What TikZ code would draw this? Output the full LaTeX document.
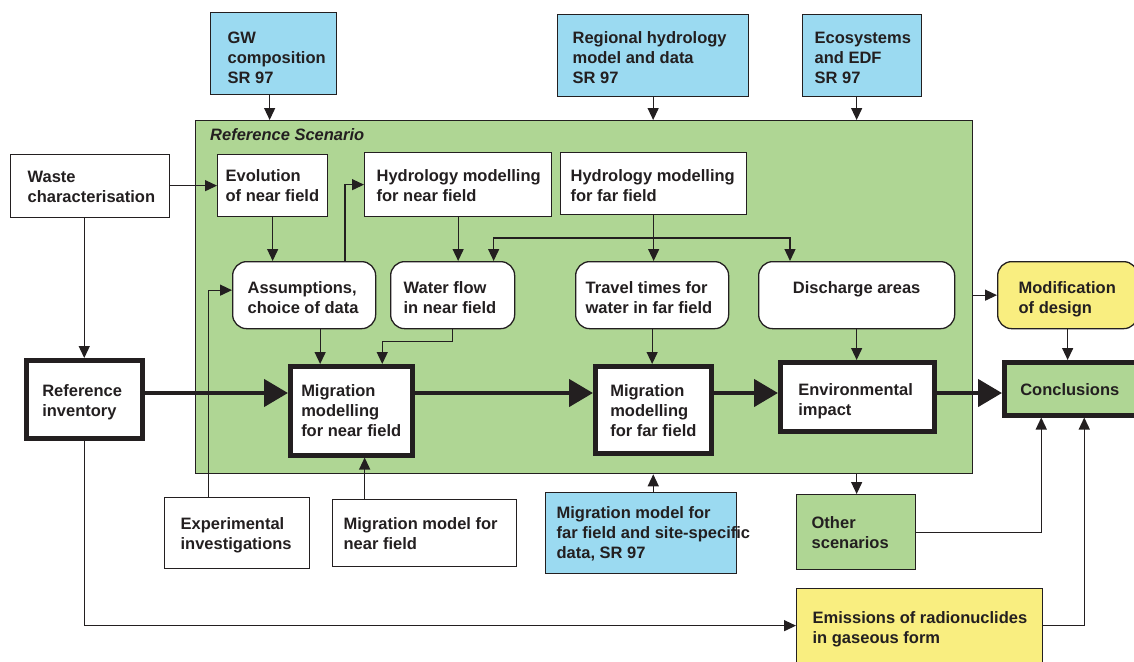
\documentclass[tikz,border=0pt]{standalone}
\usepackage{fontspec}
\setmainfont{Liberation Sans}
\usetikzlibrary{arrows.meta,calc}
\definecolor{lc}{HTML}{231F20}
\definecolor{cblue}{HTML}{9BDAF1}
\definecolor{cgreen}{HTML}{AFD694}
\definecolor{cyellow}{HTML}{F9EE80}
\tikzset{
  bx/.style={draw=lc, line width=1.3pt, anchor=north west, inner ysep=0pt,
    font=\bfseries\fontsize{16.5}{20}\selectfont, text=lc},
  rbx/.style={bx, rounded corners=14pt},
  tbx/.style={bx, line width=4.5pt},
  arr/.style={draw=lc, line width=1.3pt, -{Triangle[length=12pt,width=11pt]}},
  big/.style={draw=lc, line width=4.5pt, -{Triangle[length=24pt,width=27pt]}},
}
% #1 text width, #2 raise of first baseline above box centre, #3 lines
\newcommand\tl[3]{\makebox[#1pt][l]{\raisebox{#2pt}[0pt][0pt]{\begin{tabular}[t]{@{}l@{}}#3\end{tabular}}}}
\newcommand\tcn[3]{\makebox[#1pt][c]{\raisebox{#2pt}[0pt][0pt]{\begin{tabular}[t]{@{}c@{}}#3\end{tabular}}}}
% #1 options, #2 name, #3 x, #4 y, #5 w, #6 h, #7 text
\newcommand\bxn[7]{\node[#1,minimum width=#5pt,minimum height=#6pt] (#2) at (#3,#4) {#7};}
\begin{document}
\begin{tikzpicture}[x=1pt,y=-1pt]
\useasboundingbox (0,0) rectangle (1134,661);
\fill[white] (0,0) rectangle (1134,661);
\clip (0,0) rectangle (1134,661);
% reference scenario frame
\node[draw=lc, fill=cgreen, line width=1.3pt, minimum width=777pt, minimum height=353pt,
  anchor=north west, inner sep=0pt] (rs) at (195,120) {};
\node[anchor=base west, font=\bfseries\itshape\fontsize{16.5}{20}\selectfont, text=lc, inner sep=0pt]
  (rstitle) at (210,140) {Reference Scenario};
% top inputs
\bxn{bx,fill=cblue,inner xsep=17pt}{gw}{210}{12}{126}{82}{\tl{92}{10}{GW\\composition\\SR 97}}
\bxn{bx,fill=cblue,inner xsep=15pt}{rh}{557}{14}{191}{82}{\tl{161}{12}{Regional hydrology\\model and data\\SR 97}}
\bxn{bx,fill=cblue,inner xsep=12pt}{eco}{802}{14}{119}{82}{\tl{95}{12}{Ecosystems\\and EDF\\SR 97}}
% row 1
\bxn{bx,fill=white,inner xsep=17pt}{wc}{10}{154}{159}{63}{\tl{125}{3.5}{Waste\\characterisation}}
\bxn{bx,fill=white,inner xsep=8pt}{ev}{217}{154}{110}{62}{\tl{94}{4}{Evolution\\of near field}}
\bxn{bx,fill=white,inner xsep=12pt}{hn}{364}{152}{187}{64}{\tl{163}{3}{Hydrology modelling\\for near field}}
\bxn{bx,fill=white,inner xsep=10pt}{hf}{560}{152}{186}{62}{\tl{166}{2}{Hydrology modelling\\for far field}}
% row 2
\bxn{rbx,fill=white,inner xsep=15pt}{as}{232}{261}{143}{67}{\tl{113}{1.5}{Assumptions,\\choice of data}}
\bxn{rbx,fill=white,inner xsep=13pt}{wf}{390}{261}{124}{67}{\tl{98}{2}{Water flow\\in near field}}
\bxn{rbx,fill=white,inner xsep=10pt}{tt}{575}{261}{153}{67}{\tl{133}{2}{Travel times for\\water in far field}}
\bxn{rbx,fill=white,inner xsep=0pt}{ds}{758}{261}{196}{67}{\tcn{196}{2}{Discharge areas}}
\bxn{rbx,fill=cyellow,inner xsep=21pt}{mod}{997}{261}{140}{67}{\tl{98}{1.8}{Modification\\of design}}
% main row
\bxn{tbx,fill=white,inner xsep=16pt}{ri}{24}{358}{116}{78}{\tl{84}{2.7}{Reference\\inventory}}
\bxn{tbx,fill=white,inner xsep=11pt}{mn}{288}{364}{122}{89}{\tl{100}{14.2}{Migration\\modelling\\for near field}}
\bxn{tbx,fill=white,inner xsep=15pt}{mf}{593}{364}{116}{87}{\tl{86}{13.2}{Migration\\modelling\\for far field}}
\bxn{tbx,fill=white,inner xsep=18pt}{ei}{778}{360}{154}{69}{\tl{118}{1.2}{Environmental\\impact}}
\bxn{tbx,fill=cgreen,inner xsep=16pt}{co}{1002}{360}{140}{53}{\tl{108}{-7.2}{Conclusions}}
% bottom row
\bxn{bx,fill=white,inner xsep=16pt}{ex}{164}{497}{145}{71}{\tl{113}{3.5}{Experimental\\investigations}}
\bxn{bx,fill=white,inner xsep=11pt}{mmn}{332}{499}{184}{67}{\tl{162}{3.5}{Migration model for\\near field}}
\bxn{bx,fill=cblue,inner xsep=11pt}{mff}{545}{492}{191}{81}{\tl{169}{14.2}{Migration model for\\far field and site-specific\\data, SR 97}}
\bxn{bx,fill=cgreen,inner xsep=15pt}{os}{796}{494}{119}{75}{\tl{89}{3.2}{Other\\scenarios}}
\bxn{bx,fill=cyellow,inner xsep=16pt}{em}{796}{588}{246}{74}{\tl{214}{1.7}{Emissions of radionuclides\\in gaseous form}}
% helper coordinates
\coordinate (mainline) at (0,393);
\coordinate (br) at (0,238);
% top inputs into frame
\draw[arr] ([xshift=-4pt]gw.south) -- ([xshift=-4pt]gw.south |- rs.north);
\draw[arr] (rh.south) -- (rh.south |- rs.north);
\draw[arr] (ds.north |- eco.south) -- (ds.north |- rs.north);
% waste
\draw[arr] (wc.east |- ev.west) -- (ev.west);
\draw[arr] (ri.north |- wc.south) -- (ri.north);
% inside frame
\draw[arr] (ev.south) -- (ev.south |- as.north);
\draw[arr] ([xshift=-19pt]hn.west |- as.north) -- ([xshift=-19pt]hn.west) -- (hn.west);
\draw[arr] (hn.south) -- (hn.south |- wf.north);
\draw[arr] (hf.south) -- (hf.south |- tt.north);
\draw[arr] (hf.south |- br) -| ([xshift=41pt]wf.north);
\draw[arr] (hf.south |- br) -| ([xshift=32pt]ds.north west);
\draw[arr] ([xshift=-29pt]ex.north) |- ([yshift=5pt]as.west);
\draw[arr] ([xshift=16pt]as.south) -- ([xshift=16pt]as.south |- mn.north);
\draw[arr] (wf.south) -- ++(0,12) -| ([xshift=31pt]mn.north);
\draw[arr] ([xshift=-60pt]mmn.north) -- ([xshift=-60pt]mmn.north |- mn.south);
\draw[arr] (tt.south) -- (tt.south |- mf.north);
\draw[arr] (ds.south) -- (ds.south |- ei.north);
% main flow
\draw[big] (ri.east |- mainline) -- (mn.west |- mainline);
\draw[big] (mn.east |- mainline) -- (mf.west |- mainline);
\draw[big] (mf.east |- mainline) -- (ei.west |- mainline);
\draw[big] (ei.east |- mainline) -- (co.west |- mainline);
% right side
\draw[arr] (rs.east |- mod.west) -- (mod.west);
\draw[arr] (mod.south) -- (mod.south |- co.north);
\draw[arr] (mf.south |- mff.north) -- (mf.south |- rs.south);
\draw[arr] (ds.south |- rs.south) -- (ds.south |- os.north);
\draw[arr] (os.east) -| ([xshift=-33pt]co.south);
\draw[arr] (em.east) -| ([xshift=10pt]co.south);
\draw[arr] (ri.south) |- (em.west);
\end{tikzpicture}
\end{document}
